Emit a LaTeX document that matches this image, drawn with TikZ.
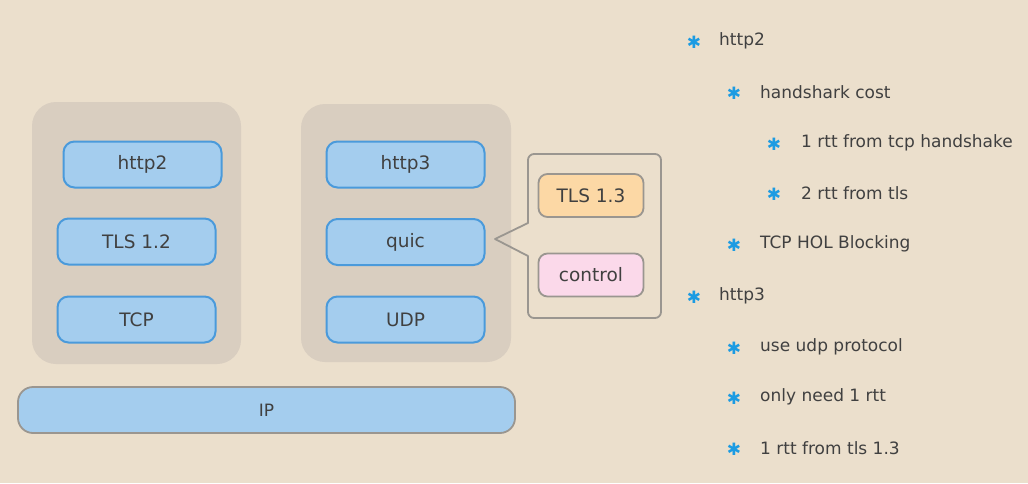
\documentclass[tikz,border=0pt]{standalone}
\usepackage{fontspec}
\setmainfont{DejaVu Sans}
\newfontfamily\symfont{DejaVu Sans}
\definecolor{bg}{HTML}{EBDFCC}
\definecolor{grp}{HTML}{D9CEC0}
\definecolor{bluef}{HTML}{A4CDEE}
\definecolor{blued}{HTML}{4A9ADB}
\definecolor{txt}{HTML}{404040}
\definecolor{grayd}{HTML}{9A9690}
\definecolor{orangef}{HTML}{FCD8A5}
\definecolor{pinkf}{HTML}{FBD9EA}
\definecolor{star}{HTML}{1C9BE2}
\tikzset{
  grpbox/.style={fill=grp, rounded corners=24pt},
  layer/.style={draw=blued, line width=2pt, fill=bluef, rounded corners=11pt,
    minimum width=158pt, minimum height=46pt, inner sep=0pt, text=txt, font=\fontsize{18.5}{20}\selectfont},
  sublayer/.style={draw=grayd, line width=1.8pt, rounded corners=9pt,
    minimum width=105pt, minimum height=43pt, inner sep=0pt, text=txt, font=\fontsize{18.5}{20}\selectfont},
  bullet/.style={text=star, font=\symfont\fontsize{17}{17}\selectfont, inner sep=0pt},
  item/.style={anchor=west, text=txt, font=\fontsize{17}{20}\selectfont, inner sep=0pt},
}
\begin{document}
\begin{tikzpicture}[x=1pt,y=-1pt]
\fill[bg] (0,0) rectangle (1028,483);
\useasboundingbox (0,0) rectangle (1028,483);
% groups
\fill[grpbox] (32,102) rectangle (241,364);
\fill[grpbox] (301,104) rectangle (511,362);
% left stack
\node[layer] (h2) at (142.5,164.5) {http2};
\node[layer] (tls12) at (136.5,241.5) {TLS 1.2};
\node[layer] (tcp) at (136.5,319.5) {TCP};
% right stack
\node[layer] (h3) at (405.5,164.5) {http3};
\node[layer] (quic) at (405.5,242) {quic};
\node[layer] (udp) at (405.5,319.5) {UDP};
% callout
\draw[grayd, line width=1.8pt, line join=round]
  (495,239) -- (528,223) [rounded corners=6pt] -- (528,154) -- (661,154) -- (661,318) -- (528,318) [sharp corners] -- (528,256) -- cycle;
\node[sublayer, fill=orangef] (tls13) at (591,195.5) {TLS 1.3};
\node[sublayer, fill=pinkf] (ctrl) at (591,275) {control};
% IP
\node[draw=grayd, line width=1.8pt, fill=bluef, rounded corners=15pt,
  minimum width=497pt, minimum height=46pt, inner sep=0pt, text=txt,
  font=\fontsize{17}{20}\selectfont] (ip) at (266.5,410) {IP};
% bullets
\node[bullet] (b1) at (694,42) {✱};   \node[item] (t1) at (719,41) {http2};
\node[bullet] (b2) at (734,93) {✱};   \node[item] (t2) at (760,92) {handshark cost};
\node[bullet] (b3) at (774,144) {✱};  \node[item] (t3) at (801,143) {1 rtt from tcp handshake};
\node[bullet] (b4) at (774,194) {✱};  \node[item] (t4) at (801,193) {2 rtt from tls};
\node[bullet] (b5) at (734,245) {✱};  \node[item] (t5) at (760,244) {TCP HOL Blocking};
\node[bullet] (b6) at (694,297) {✱};  \node[item] (t6) at (719,296) {http3};
\node[bullet] (b7) at (734,348) {✱};  \node[item] (t7) at (760,347) {use udp protocol};
\node[bullet] (b8) at (734,398) {✱};  \node[item] (t8) at (760,397) {only need 1 rtt};
\node[bullet] (b9) at (734,449) {✱};  \node[item] (t9) at (760,448) {1 rtt from tls 1.3};
\end{tikzpicture}
\end{document}
